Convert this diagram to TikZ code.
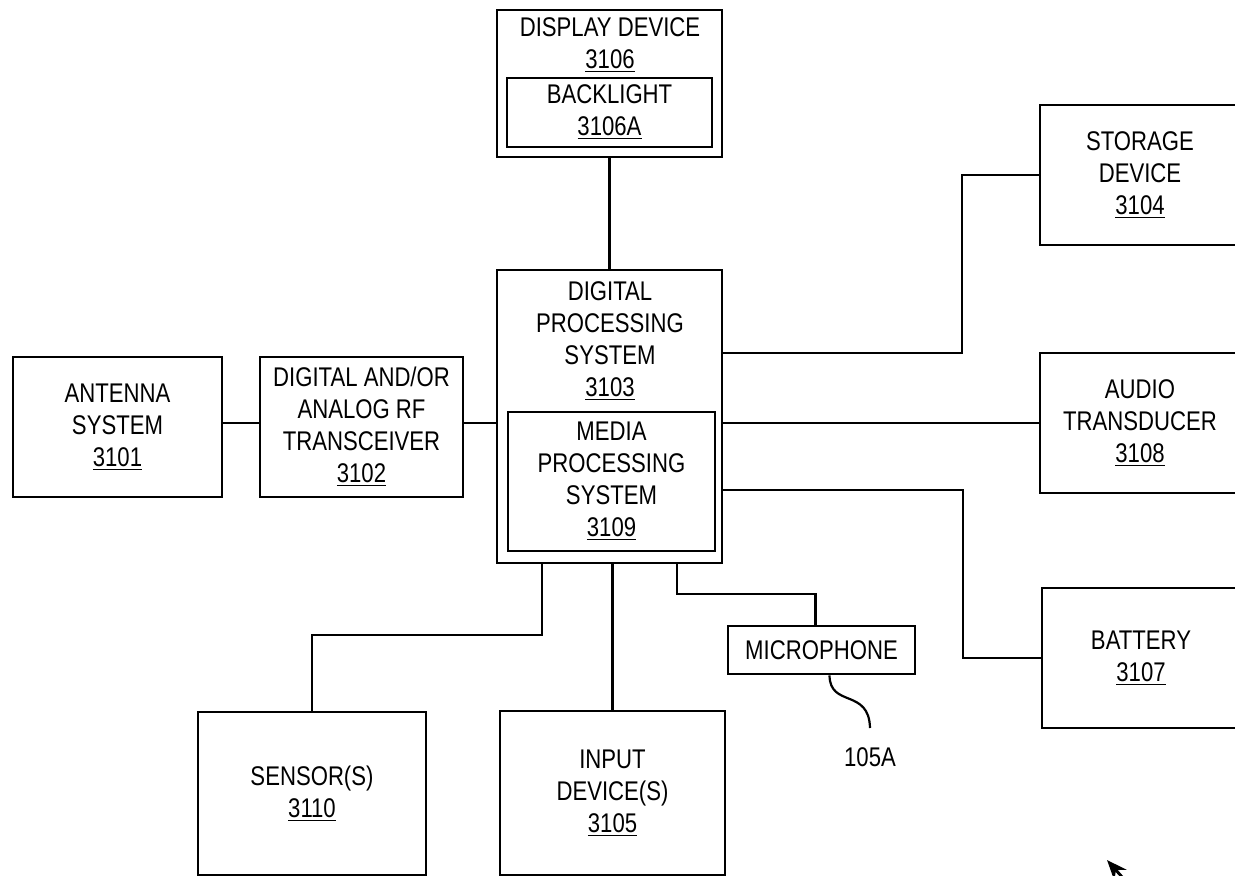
\documentclass[tikz,border=0pt]{standalone}
\usepackage{fontspec}
\setmainfont{Liberation Sans}[FakeStretch=0.82]
\usetikzlibrary{arrows.meta}

\begin{document}
\begin{tikzpicture}[x=0.5pt,y=-0.5pt,line width=1.45pt,>={Stealth[length=10pt,width=8pt]},
  every node/.style={font=\fontsize{13.5}{16}\selectfont,align=center,inner sep=0pt},
  blk/.style 2 args={draw,minimum width=#1pt,minimum height=#2pt}]
  \useasboundingbox (0,0) rectangle (1235,876);
  % display device with backlight
  \node[blk={112.5}{73.5}] (disp) at (609.5,83.5) {};
  \node (dispt) at (610,45) {DISPLAY DEVICE\\\underline{3106}};
  \node[blk={102.5}{34.5}] (back) at (609.5,112.5) {BACKLIGHT\\\underline{3106A}};
  % digital processing system with media processing
  \node[blk={112.5}{146.5}] (dps) at (609.5,416.5) {};
  \node (dpst) at (610,341) {DIGITAL\\PROCESSING\\SYSTEM\\\underline{3103}};
  \node[blk={103.5}{69.5}] (media) at (611.5,481.5) {MEDIA\\PROCESSING\\SYSTEM\\\underline{3109}};
  % left side
  \node[blk={104.5}{70}] (ant) at (117.5,427) {ANTENNA\\SYSTEM\\\underline{3101}};
  \node[blk={101.5}{70}] (trx) at (361.5,427) {DIGITAL AND/OR\\ANALOG RF\\TRANSCEIVER\\\underline{3102}};
  % right side
  \node[blk={100}{70}] (stor) at (1140,175) {STORAGE\\DEVICE\\\underline{3104}};
  \node[blk={100}{70}] (aud) at (1140,423) {AUDIO\\TRANSDUCER\\\underline{3108}};
  \node[blk={99}{70}] (bat) at (1141,658) {BATTERY\\\underline{3107}};
  % bottom
  \node[blk={114}{81.5}] (sen) at (312,793.5) {SENSOR(S)\\\underline{3110}};
  \node[blk={112.5}{82}] (inp) at (612.5,793) {INPUT\\DEVICE(S)\\\underline{3105}};
  \node[blk={93.5}{24}] (mic) at (821.5,650) {MICROPHONE};
  \node (lbl) at (870,757) {105A};

  % connections
  \draw (disp.south) -- (dps.north);
  \draw ([yshift=2pt]ant.east) -- ([yshift=2pt]trx.west);
  \draw ([yshift=2pt]trx.east) -- (dps.west |- 0,423);
  \draw (dps.east |- 0,353) -- (962,353) |- (stor.west);
  \draw (dps.east |- aud.west) -- (aud.west);
  \draw (dps.east |- 0,490) -- (963,490) |- (bat.west);
  \draw (dps.south -| 542,0) -- (542,635) -| (sen.north);
  \draw (dps.south -| inp.north) -- (inp.north);
  \draw (dps.south -| 677,0) -- (677,594) -| ([xshift=-3pt]mic.north);
  \draw[line width=1.1pt] ([xshift=4pt]mic.south) .. controls (830,708) and (869,688) .. (lbl.north |- 0,728);
  \coordinate (tail) at (1130,886);
  \coordinate (tip) at (1107,860);
  \draw[->] (tail) -- (tip);
\end{tikzpicture}
\end{document}
